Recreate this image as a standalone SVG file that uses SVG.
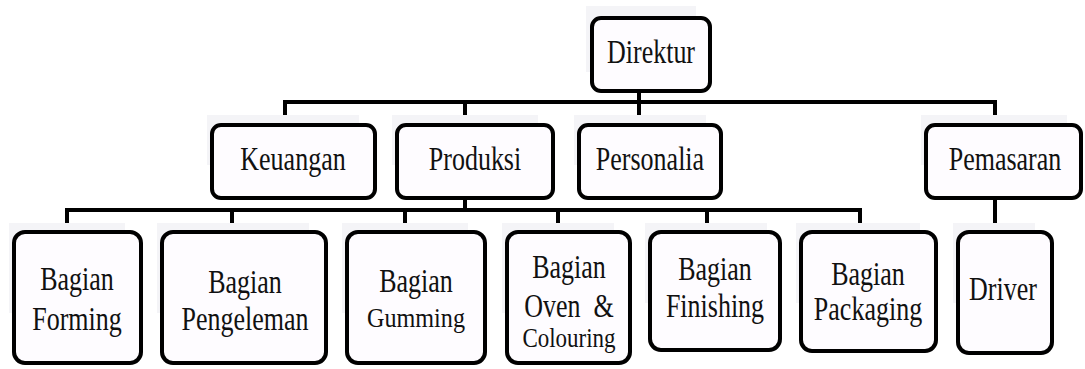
<svg xmlns="http://www.w3.org/2000/svg" width="1085" height="369" viewBox="0 0 1085 369">
<style>
.box{fill:#fefcff;stroke:#000;stroke-width:4}
.sh{fill:#f4f4f7}
text{font-family:'Liberation Serif','Times New Roman',serif;font-size:26px;fill:#111;text-anchor:middle}
.s{font-size:23px}
.conn{fill:none;stroke:#000;stroke-width:4;stroke-linecap:square}
</style>
<rect width="1085" height="369" fill="#fff"/>
<g id="connectors">
<path class="conn" d="M639 93V102M285 123V102H995V123M465 102V123M639 102V123"/>
<path class="conn" d="M465 200V210M67 231V210H860V231M232 210V231M405 210V231M558 210V231M707 210V231"/>
<path class="conn" d="M995 200V231"/>
</g>
<g id="direktur">
<rect class="sh" x="586" y="6" width="110" height="66"/>
<rect class="box" x="592" y="18" width="118" height="73" rx="9"/>
<text transform="translate(651,63) scale(1,1.3)">Direktur</text>
</g>
<g id="keuangan">
<rect class="sh" x="207" y="115" width="152" height="50"/>
<rect class="box" x="212" y="125" width="163" height="73" rx="9"/>
<text transform="translate(293,170) scale(1,1.3)">Keuangan</text>
</g>
<g id="produksi">
<rect class="sh" x="392" y="115" width="146" height="50"/>
<rect class="box" x="397" y="125" width="156" height="73" rx="9"/>
<text transform="translate(475,170) scale(1,1.3)">Produksi</text>
</g>
<g id="personalia">
<rect class="sh" x="574" y="115" width="132" height="50"/>
<rect class="box" x="579" y="125" width="142" height="73" rx="9"/>
<text transform="translate(650,170) scale(1,1.3)">Personalia</text>
</g>
<g id="pemasaran">
<rect class="sh" x="921" y="115" width="146" height="50"/>
<rect class="box" x="926" y="125" width="155" height="73" rx="9"/>
<text transform="translate(1005,170) scale(1,1.3)">Pemasaran</text>
</g>
<g id="forming">
<rect class="sh" x="9" y="223" width="116" height="90"/>
<rect class="box" x="14" y="232" width="127" height="131" rx="11"/>
<text transform="translate(77,290) scale(1,1.3)">Bagian</text>
<text transform="translate(77,330) scale(1,1.3)">Forming</text>
</g>
<g id="pengeleman">
<rect class="sh" x="157" y="223" width="152" height="90"/>
<rect class="box" x="162" y="232" width="164" height="131" rx="11"/>
<text transform="translate(245,293) scale(1,1.3)">Bagian</text>
<text transform="translate(245,330) scale(1,1.3)">Pengeleman</text>
</g>
<g id="gumming">
<rect class="sh" x="342" y="223" width="126" height="90"/>
<rect class="box" x="347" y="232" width="138" height="131" rx="11"/>
<text transform="translate(416,292) scale(1,1.3)">Bagian</text>
<text class="s" transform="translate(416,327) scale(1.05,1.2)">Gumming</text>
</g>
<g id="oven">
<rect class="sh" x="502" y="223" width="112" height="90"/>
<rect class="box" x="507" y="232" width="123" height="131" rx="11"/>
<text transform="translate(569,278) scale(1,1.3)">Bagian</text>
<text transform="translate(569,317) scale(1,1.3)" xml:space="preserve">Oven  &amp;</text>
<text class="s" transform="translate(569,347) scale(1,1.15)">Colouring</text>
</g>
<g id="finishing">
<rect class="sh" x="645" y="223" width="122" height="80"/>
<rect class="box" x="650" y="232" width="130" height="118" rx="11"/>
<text transform="translate(715,280) scale(1,1.3)">Bagian</text>
<text transform="translate(715,317) scale(1,1.3)">Finishing</text>
</g>
<g id="packaging">
<rect class="sh" x="796" y="223" width="124" height="80"/>
<rect class="box" x="801" y="232" width="135" height="119" rx="11"/>
<text transform="translate(868,285) scale(1,1.3)">Bagian</text>
<text transform="translate(868,320) scale(1,1.3)">Packaging</text>
</g>
<g id="driver">
<rect class="sh" x="953" y="223" width="82" height="80"/>
<rect class="box" x="958" y="232" width="94" height="121" rx="11"/>
<text transform="translate(1003,300) scale(1,1.3)">Driver</text>
</g>
</svg>
